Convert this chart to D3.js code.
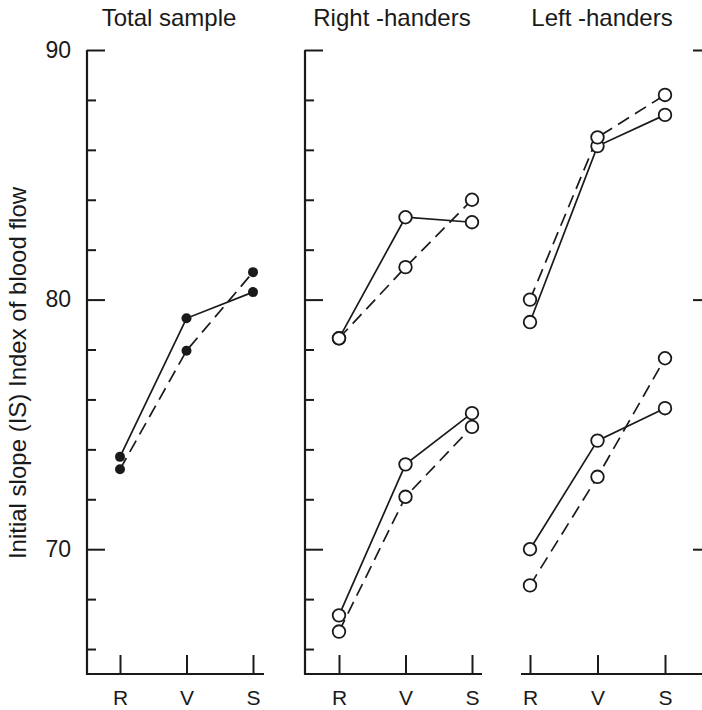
<!DOCTYPE html>
<html>
<head>
<meta charset="utf-8">
<script src="https://cdn.jsdelivr.net/npm/d3@7"></script>
<style>
  body { margin: 0; background: #fff; }
  svg { font-family: "Liberation Sans", Arial, sans-serif; }
</style>
</head>
<body>
<svg id="chart" width="702" height="710"></svg>
<script>
const conditions = ["R", "V", "S"];
const panelTitles = ["Total sample", "Right -handers", "Left -handers"];
const majorTicks = [90, 80, 70];
const minorTicks = [88, 86, 84, 82, 78, 76, 74, 72, 68, 66];

// total sample (filled dots)
const totalSolid = [73.7, 79.25, 80.3];
const totalDashed = [73.2, 77.95, 81.1];
// right-handers (open circles)
const rightUpperSolid = [78.45, 83.3, 83.1];
const rightUpperDashed = [78.45, 81.3, 84.0];
const rightLowerSolid = [67.35, 73.4, 75.45];
const rightLowerDashed = [66.7, 72.1, 74.9];
// left-handers (open circles)
const leftUpperSolid = [79.1, 86.15, 87.4];
const leftUpperDashed = [80.0, 86.5, 88.2];
const leftLowerSolid = [70.0, 74.35, 75.65];
const leftLowerDashed = [68.55, 72.9, 77.65];

const svg = d3.select("#chart");
const ink = "#1a1a1a";

const y = d3.scaleLinear().domain([65, 90]).range([674, 50]);

// layout of the three panels
const layout = [
  {left: 87, right: 264, first: 120, last: 253, titleX: 169, yAxis: "left"},
  {left: 305, right: 482, first: 339, last: 472, titleX: 392, yAxis: "left"},
  {left: 521, right: 711, first: 530, last: 665, titleX: 602, yAxis: "right"}
];

const panelSeries = [
  [{v: totalSolid, dash: false}, {v: totalDashed, dash: true}],
  [{v: rightUpperSolid, dash: false}, {v: rightUpperDashed, dash: true},
   {v: rightLowerSolid, dash: false}, {v: rightLowerDashed, dash: true}],
  [{v: leftUpperSolid, dash: false}, {v: leftUpperDashed, dash: true},
   {v: leftLowerSolid, dash: false}, {v: leftLowerDashed, dash: true}]
];

layout.forEach((p, i) => {
  const x = d3.scalePoint().domain(conditions).range([p.first, p.last]);
  const g = svg.append("g");

  // title
  g.append("text")
    .attr("x", p.titleX).attr("y", 26)
    .attr("text-anchor", "middle")
    .attr("font-size", 24)
    .attr("fill", ink)
    .text(panelTitles[i]);

  // x axis line + upward ticks
  g.append("line")
    .attr("x1", p.left).attr("x2", p.right)
    .attr("y1", y(65)).attr("y2", y(65))
    .attr("stroke", ink).attr("stroke-width", 2.2);
  g.append("g")
    .attr("transform", "translate(0," + y(65) + ")")
    .call(d3.axisBottom(x).tickSizeInner(-19).tickSizeOuter(0).tickPadding(16))
    .call(a => a.select(".domain").remove())
    .call(a => a.selectAll("line").attr("stroke", ink).attr("stroke-width", 2))
    .call(a => a.selectAll("text").attr("font-size", 21).attr("fill", ink)
      .attr("font-family", "Liberation Sans, Arial, sans-serif"));

  // y axis
  const ax = p.yAxis === "left" ? p.left : p.right;
  const axisFn = p.yAxis === "left" ? d3.axisRight : d3.axisLeft;
  g.append("line")
    .attr("x1", ax).attr("x2", ax)
    .attr("y1", y(90)).attr("y2", y(65) + 1)
    .attr("stroke", ink).attr("stroke-width", 2.2);
  g.append("g")
    .attr("transform", "translate(" + ax + ",0)")
    .call(axisFn(y).tickValues(majorTicks).tickSize(18).tickFormat(""))
    .call(a => a.select(".domain").remove())
    .call(a => a.selectAll("line").attr("stroke", ink).attr("stroke-width", 2));
  g.append("g")
    .attr("transform", "translate(" + ax + ",0)")
    .call(axisFn(y).tickValues(minorTicks).tickSize(9).tickFormat(""))
    .call(a => a.select(".domain").remove())
    .call(a => a.selectAll("line").attr("stroke", ink).attr("stroke-width", 2));

  // data lines
  const line = d3.line().x((d, k) => x(conditions[k])).y(d => y(d));
  panelSeries[i].forEach(s => {
    g.append("path")
      .attr("d", line(s.v))
      .attr("fill", "none")
      .attr("stroke", ink)
      .attr("stroke-width", 1.7)
      .attr("stroke-dasharray", s.dash ? "13,7" : null);
  });

  // markers
  panelSeries[i].forEach(s => {
    g.selectAll(null)
      .data(s.v)
      .enter()
      .append("circle")
      .attr("cx", (d, k) => x(conditions[k]))
      .attr("cy", d => y(d))
      .attr("r", i === 0 ? 5 : 6.3)
      .attr("fill", i === 0 ? ink : "#fff")
      .attr("stroke", ink)
      .attr("stroke-width", i === 0 ? 0 : 1.8);
  });
});

// y tick labels on the first panel
svg.append("g")
  .attr("transform", "translate(" + layout[0].left + ",0)")
  .call(d3.axisLeft(y).tickValues(majorTicks).tickSize(0).tickPadding(16))
  .call(a => a.select(".domain").remove())
  .call(a => a.selectAll("text").attr("font-size", 23).attr("fill", ink)
    .attr("font-family", "Liberation Sans, Arial, sans-serif"));

// y axis title
svg.append("text")
  .attr("transform", "translate(26,373) rotate(-90)")
  .attr("text-anchor", "middle")
  .attr("font-size", 24)
  .attr("fill", ink)
  .text("Initial slope (IS) Index of blood flow");
</script>
</body>
</html>
